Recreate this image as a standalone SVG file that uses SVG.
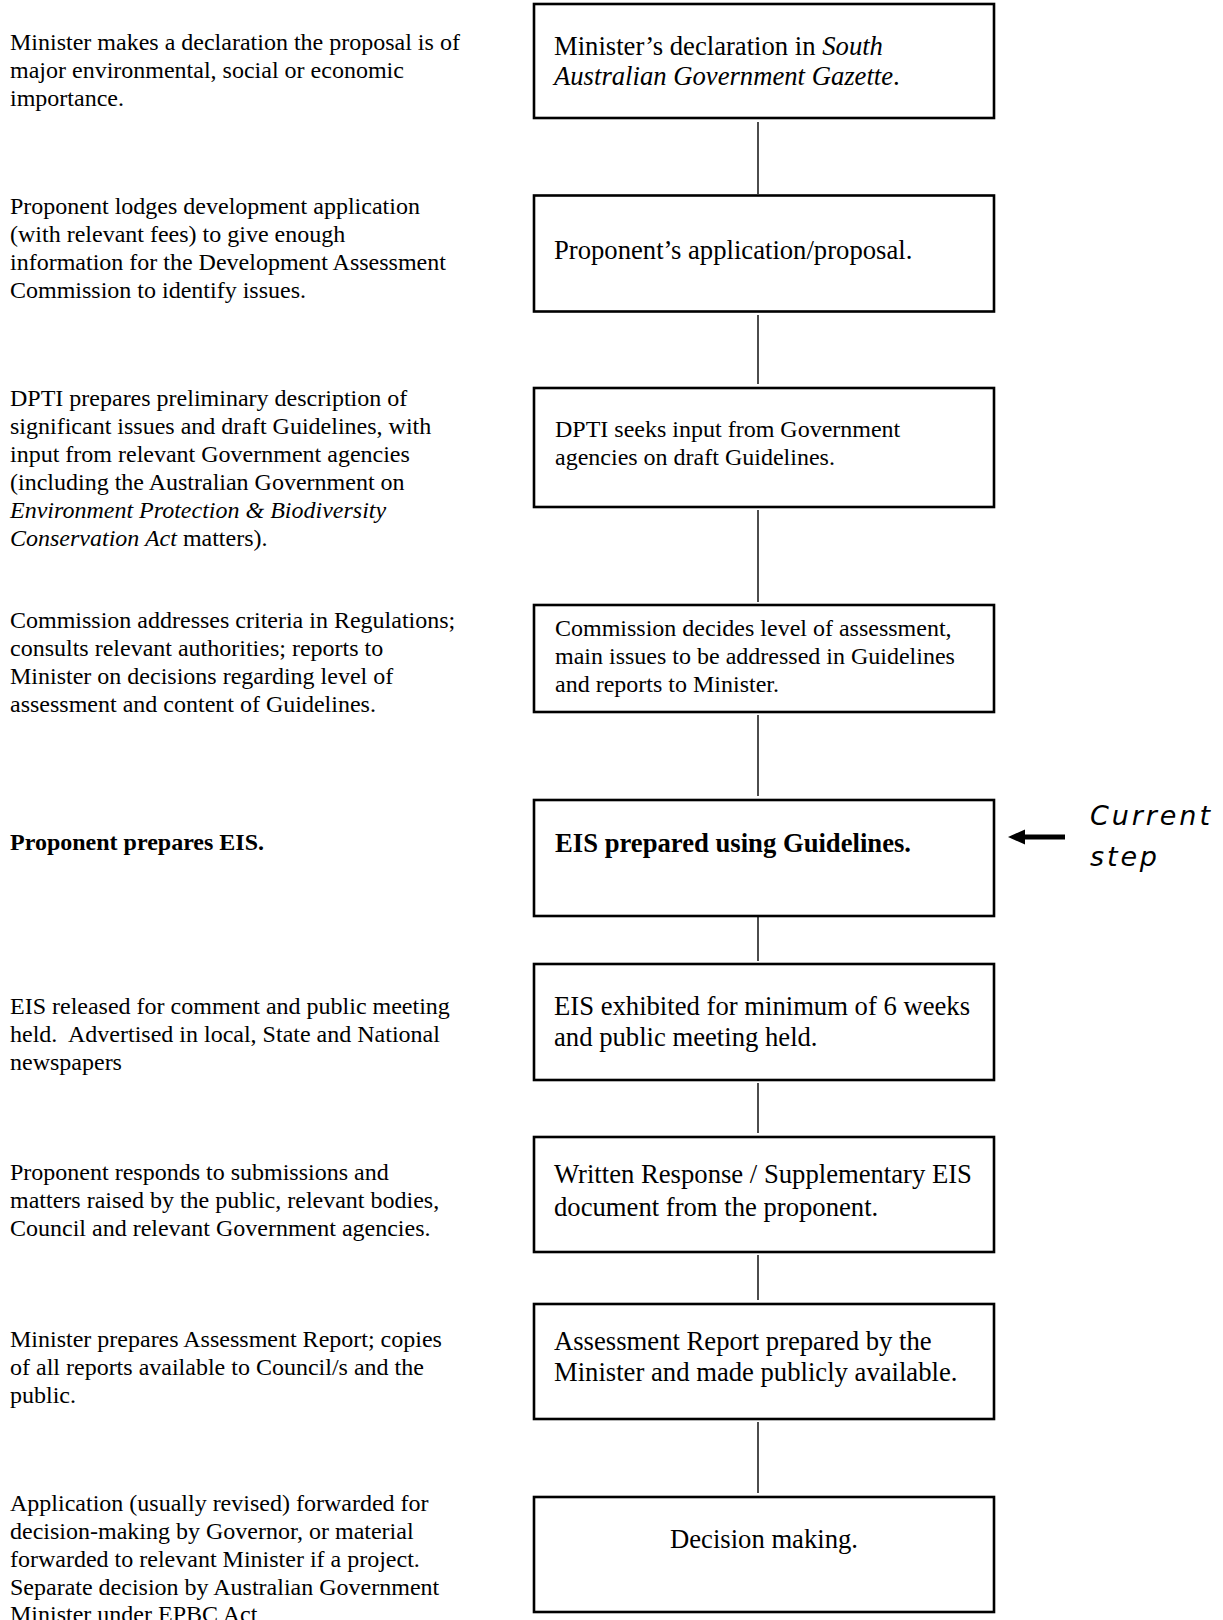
<svg xmlns="http://www.w3.org/2000/svg" width="1223" height="1620" viewBox="0 0 1223 1620">
<style>
  text { font-family: "Liberation Serif", "Times New Roman", serif; fill: #000; }
  .l { font-size: 24px; }
  .b { font-size: 26.67px; }
  .s { font-size: 24px; }
  .bold { font-weight: bold; }
  .it { font-style: italic; }
  .box { fill: #fff; stroke: #000; stroke-width: 2.6; }
  .conn { stroke: #000; stroke-width: 1.4; fill: none; }
  .cur { font-family: "DejaVu Sans", "Liberation Sans", sans-serif; font-style: italic; font-weight: 200; font-size: 27px; }
</style>
<rect width="1223" height="1620" fill="#fff"/>

<g id="connectors">
  <line class="conn" x1="758" y1="122" x2="758" y2="194"/>
  <line class="conn" x1="758" y1="315" x2="758" y2="384"/>
  <line class="conn" x1="758" y1="510" x2="758" y2="602"/>
  <line class="conn" x1="758" y1="715" x2="758" y2="796"/>
  <line class="conn" x1="758" y1="917" x2="758" y2="961"/>
  <line class="conn" x1="758" y1="1083" x2="758" y2="1133"/>
  <line class="conn" x1="758" y1="1255" x2="758" y2="1300"/>
  <line class="conn" x1="758" y1="1422" x2="758" y2="1493"/>
</g>

<g id="desc1">
  <text class="l" x="10" y="50">Minister makes a declaration the proposal is of</text>
  <text class="l" x="10" y="78">major environmental, social or economic</text>
  <text class="l" x="10" y="106">importance.</text>
</g>
<g id="desc2">
  <text class="l" x="10" y="214">Proponent lodges development application</text>
  <text class="l" x="10" y="242">(with relevant fees) to give enough</text>
  <text class="l" x="10" y="270">information for the Development Assessment</text>
  <text class="l" x="10" y="298">Commission to identify issues.</text>
</g>
<g id="desc3">
  <text class="l" x="10" y="406">DPTI prepares preliminary description of</text>
  <text class="l" x="10" y="434">significant issues and draft Guidelines, with</text>
  <text class="l" x="10" y="462">input from relevant Government agencies</text>
  <text class="l" x="10" y="490">(including the Australian Government on</text>
  <text class="l it" x="10" y="518">Environment Protection &amp; Biodiversity</text>
  <text class="l" x="10" y="546"><tspan class="it">Conservation Act</tspan> matters).</text>
</g>
<g id="desc4">
  <text class="l" x="10" y="628">Commission addresses criteria in Regulations;</text>
  <text class="l" x="10" y="656">consults relevant authorities; reports to</text>
  <text class="l" x="10" y="684">Minister on decisions regarding level of</text>
  <text class="l" x="10" y="712">assessment and content of Guidelines.</text>
</g>
<g id="desc5">
  <text class="l bold" x="10" y="850">Proponent prepares EIS.</text>
</g>
<g id="desc6">
  <text class="l" x="10" y="1014">EIS released for comment and public meeting</text>
  <text class="l" x="10" y="1042">held.&#160; Advertised in local, State and National</text>
  <text class="l" x="10" y="1070">newspapers</text>
</g>
<g id="desc7">
  <text class="l" x="10" y="1180">Proponent responds to submissions and</text>
  <text class="l" x="10" y="1208">matters raised by the public, relevant bodies,</text>
  <text class="l" x="10" y="1236">Council and relevant Government agencies.</text>
</g>
<g id="desc8">
  <text class="l" x="10" y="1346.5">Minister prepares Assessment Report; copies</text>
  <text class="l" x="10" y="1374.5">of all reports available to Council/s and the</text>
  <text class="l" x="10" y="1402.5">public.</text>
</g>
<g id="desc9">
  <text class="l" x="10" y="1511">Application (usually revised) forwarded for</text>
  <text class="l" x="10" y="1539">decision-making by Governor, or material</text>
  <text class="l" x="10" y="1567">forwarded to relevant Minister if a project.</text>
  <text class="l" x="10" y="1595">Separate decision by Australian Government</text>
  <text class="l" x="10" y="1622">Minister under EPBC Act</text>
</g>

<g id="step1">
  <rect class="box" x="534" y="4" width="460" height="114"/>
  <text class="b" x="554" y="55">Minister’s declaration in <tspan class="it">South</tspan></text>
  <text class="b" x="554" y="85"><tspan class="it">Australian Government Gazette</tspan>.</text>
</g>
<g id="step2">
  <rect class="box" x="534" y="195.5" width="460" height="116"/>
  <text class="b" x="554" y="259">Proponent’s application/proposal.</text>
</g>
<g id="step3">
  <rect class="box" x="534" y="388" width="460" height="119"/>
  <text class="s" x="555" y="437">DPTI seeks input from Government</text>
  <text class="s" x="555" y="465">agencies on draft Guidelines.</text>
</g>
<g id="step4">
  <rect class="box" x="534" y="605" width="460" height="107"/>
  <text class="s" x="555" y="636">Commission decides level of assessment,</text>
  <text class="s" x="555" y="664">main issues to be addressed in Guidelines</text>
  <text class="s" x="555" y="692">and reports to Minister.</text>
</g>
<g id="step5">
  <rect class="box" x="534" y="800" width="460" height="116"/>
  <text class="b bold" x="555" y="852">EIS prepared using Guidelines.</text>
</g>
<g id="step6">
  <rect class="box" x="534" y="964" width="460" height="116"/>
  <text class="b" x="554" y="1015">EIS exhibited for minimum of 6 weeks</text>
  <text class="b" x="554" y="1046">and public meeting held.</text>
</g>
<g id="step7">
  <rect class="box" x="534" y="1137" width="460" height="115"/>
  <text class="b" x="554" y="1183">Written Response / Supplementary EIS</text>
  <text class="b" x="554" y="1216">document from the proponent.</text>
</g>
<g id="step8">
  <rect class="box" x="534" y="1304" width="460" height="115"/>
  <text class="b" x="554" y="1350">Assessment Report prepared by the</text>
  <text class="b" x="554" y="1381">Minister and made publicly available.</text>
</g>
<g id="step9">
  <rect class="box" x="534" y="1497" width="460" height="115"/>
  <text class="b" x="764" y="1548" text-anchor="middle">Decision making.</text>
</g>

<g id="current-step">
  <rect x="1024" y="834.5" width="41" height="5" fill="#000"/>
  <polygon points="1008,837 1025,829.5 1025,844.5" fill="#000"/>
  <text class="cur" x="1090" y="825" textLength="120" lengthAdjust="spacing">Current</text>
  <text class="cur" x="1090" y="866" textLength="67" lengthAdjust="spacing">step</text>
</g>
</svg>
